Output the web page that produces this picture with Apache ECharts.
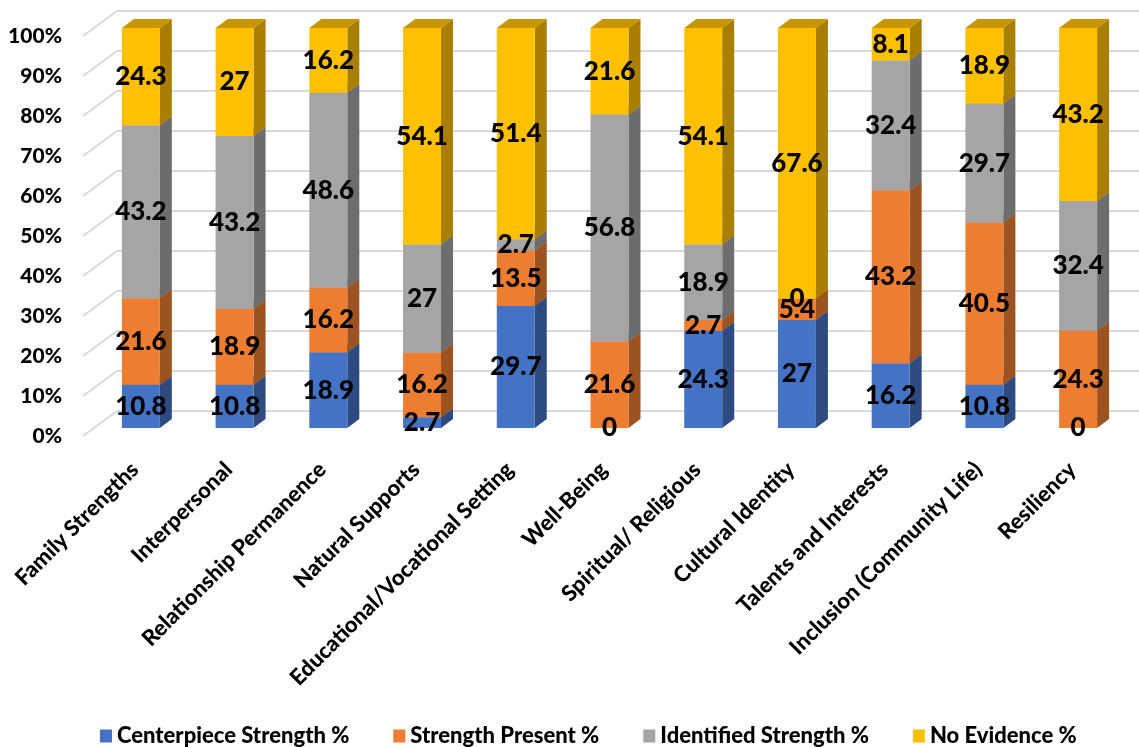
<!DOCTYPE html>
<html>
<head>
<meta charset="utf-8">
<script src="https://cdn.jsdelivr.net/npm/echarts@6/dist/echarts.min.js"></script>
<style>
  html, body { margin: 0; padding: 0; background: #ffffff; }
  #chart { width: 1139px; height: 747px; }
</style>
</head>
<body>
<div id="chart"></div>
<script>
// Strength domains and the share of each rating, per domain
const categories = [
  'Family Strengths', 'Interpersonal', 'Relationship Permanence', 'Natural Supports',
  'Educational/Vocational Setting', 'Well-Being', 'Spiritual/ Religious', 'Cultural Identity',
  'Talents and Interests', 'Inclusion (Community Life)', 'Resiliency'
];
const centerpiece = [10.8, 10.8, 18.9, 2.7, 29.7, 0, 24.3, 27, 16.2, 10.8, 0];
const present     = [21.6, 18.9, 16.2, 16.2, 13.5, 21.6, 2.7, 5.4, 43.2, 40.5, 24.3];
const identified  = [43.2, 43.2, 48.6, 27, 2.7, 56.8, 18.9, 0, 32.4, 29.7, 32.4];
const noEvidence  = [24.3, 27, 16.2, 54.1, 51.4, 21.6, 54.1, 67.6, 8.1, 18.9, 43.2];
const seriesNames = ['Centerpiece Strength %', 'Strength Present %', 'Identified Strength %', 'No Evidence %'];
const yTicks = [0, 10, 20, 30, 40, 50, 60, 70, 80, 90, 100];

const colors = ['#4472C4', '#ED7D31', '#A5A5A5', '#FFC000'];
const FONT = 'Lato';
const WEIGHT = 900;

// pseudo-3D geometry (pixels): front plane -> bar front, bar depth, wall depth
const GAP = [11, 8];
const BAR_DEPTH = [12, 9];
const WALL_DEPTH = [34, 25];
const BAR_RATIO = 0.405;

// 100% stacking: every column is scaled by its own total
const layers = [centerpiece, present, identified, noEvidence];
const totals = categories.map((_, i) => layers.reduce((s, l) => s + l[i], 0));
const segs = layers.map(() => []);
categories.forEach((_, i) => {
  let acc = 0;
  layers.forEach((l, k) => {
    const share = l[i] / totals[i] * 100;
    segs[k].push([i, acc, acc + share, l[i]]);
    acc += share;
  });
});
const allSegs = [].concat(...segs);

function shade(hex, f) {
  const n = parseInt(hex.slice(1), 16);
  const r = Math.round(((n >> 16) & 255) * f);
  const g = Math.round(((n >> 8) & 255) * f);
  const b = Math.round((n & 255) * f);
  return 'rgb(' + r + ',' + g + ',' + b + ')';
}

function boxRenderer(color) {
  const side = shade(color, 0.66);
  const top = shade(color, 0.78);
  return function (params, api) {
    const c = api.value(0), y0 = api.value(1), y1 = api.value(2);
    if (!(y1 - y0 > 0)) return { type: 'group', children: [] };
    const b = api.coord([c, y0]);
    const t = api.coord([c, y1]);
    const w = api.size([1, 0])[0] * BAR_RATIO;
    const x = b[0] - w / 2 + GAP[0];
    const yb = b[1] - GAP[1];
    const yt = t[1] - GAP[1];
    const dx = BAR_DEPTH[0], dy = BAR_DEPTH[1];
    return {
      type: 'group',
      children: [
        { type: 'polygon', shape: { points: [[x + w, yb], [x + w + dx, yb - dy], [x + w + dx, yt - dy], [x + w, yt]] }, style: { fill: side } },
        { type: 'polygon', shape: { points: [[x, yt], [x + dx, yt - dy], [x + w + dx, yt - dy], [x + w, yt]] }, style: { fill: top } },
        { type: 'rect', shape: { x: x, y: yt, width: w, height: yb - yt }, style: { fill: color } }
      ]
    };
  };
}

function labelRenderer(params, api) {
  const c = api.value(0), y0 = api.value(1), y1 = api.value(2), raw = api.value(3);
  const p = api.coord([c, (y0 + y1) / 2]);
  return {
    type: 'text',
    x: p[0] + GAP[0],
    y: p[1] - GAP[1],
    style: {
      text: String(raw),
      fill: '#000000',
      fontFamily: FONT,
      fontWeight: WEIGHT,
      fontSize: 26,
      align: 'center',
      verticalAlign: 'middle'
    }
  };
}

// side-wall gridlines running from the front plane back to the rear wall
function wallRenderer(params, api) {
  const v = api.value(1);
  const left = params.coordSys.x;
  const y = api.coord([0, v])[1];
  return {
    type: 'line',
    shape: { x1: left, y1: y, x2: left + WALL_DEPTH[0], y2: y - WALL_DEPTH[1] },
    style: { stroke: '#D9D9D9', lineWidth: 2 }
  };
}

const chart = echarts.init(document.getElementById('chart'), null, { renderer: 'canvas' });

const series = [
  {
    type: 'custom',
    name: 'wall',
    xAxisIndex: 0, yAxisIndex: 0,
    data: yTicks.map(v => [0, v]),
    renderItem: wallRenderer,
    silent: true,
    z: 1
  }
];
seriesNames.forEach((name, k) => {
  series.push({
    type: 'custom',
    name: name,
    xAxisIndex: 0, yAxisIndex: 0,
    itemStyle: { color: colors[k] },
    data: segs[k],
    renderItem: boxRenderer(colors[k]),
    z: 2
  });
});
series.push({
  type: 'custom',
  name: 'labels',
  xAxisIndex: 0, yAxisIndex: 0,
  data: allSegs,
  renderItem: labelRenderer,
  silent: true,
  z: 10
});

const labelFont = { color: '#000000', fontFamily: FONT, fontWeight: WEIGHT, fontSize: 22 };

chart.setOption({
  animation: false,
  backgroundColor: '#ffffff',
  grid: [
    { left: 83, right: 25, top: 36, bottom: 311, containLabel: false },
    { left: 117, right: 0, top: 11, bottom: 336, containLabel: false },
    { left: 88, right: 20, top: 36, bottom: 311, containLabel: false }
  ],
  legend: {
    data: seriesNames,
    left: 95,
    top: 720,
    icon: 'rect',
    itemWidth: 12,
    itemHeight: 13,
    itemGap: 44,
    textStyle: labelFont
  },
  xAxis: [
    { type: 'category', gridIndex: 0, data: categories, show: false },
    { type: 'value', gridIndex: 1, min: 0, max: 1, show: false },
    {
      type: 'category',
      gridIndex: 2,
      data: categories,
      boundaryGap: true,
      axisLine: { show: false },
      axisTick: { show: false },
      splitLine: { show: false },
      axisLabel: Object.assign({ interval: 0, rotate: 45, margin: 30 }, labelFont)
    }
  ],
  yAxis: [
    {
      type: 'value',
      gridIndex: 0,
      min: 0,
      max: 100,
      interval: 10,
      axisLine: { show: false },
      axisTick: { show: false },
      splitLine: { show: false },
      axisLabel: Object.assign({ formatter: '{value}%', margin: 21 }, labelFont, { fontSize: 21 })
    },
    {
      type: 'value',
      gridIndex: 1,
      min: 0,
      max: 100,
      interval: 10,
      axisLine: { show: false },
      axisTick: { show: false },
      axisLabel: { show: false },
      splitLine: { show: true, lineStyle: { color: '#D9D9D9', width: 2 } }
    },
    { type: 'value', gridIndex: 2, min: 0, max: 100, show: false }
  ],
  series: series
});
</script>
</body>
</html>
